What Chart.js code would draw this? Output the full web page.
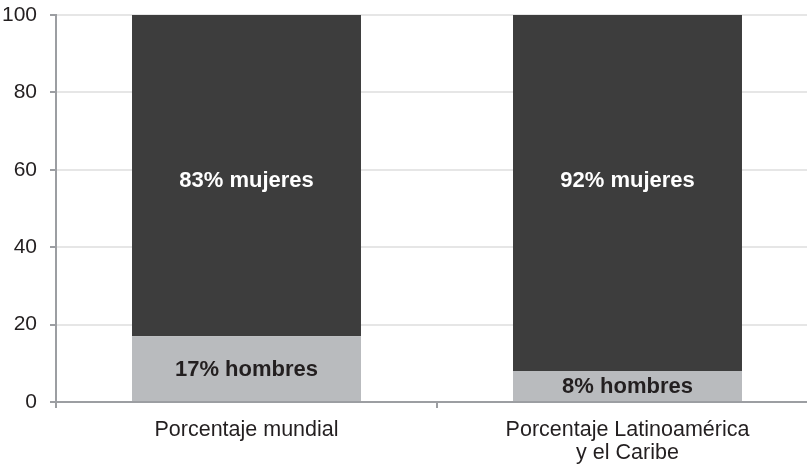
<!DOCTYPE html>
<html>
<head>
<meta charset="utf-8">
<script src="https://cdn.jsdelivr.net/npm/chart.js@4/dist/chart.umd.min.js"></script>
<style>
  html, body { margin: 0; padding: 0; background: #fff; overflow: hidden; }
  #wrap { width: 818px; height: 467px; }
</style>
</head>
<body>
<div id="wrap"><canvas id="c" width="818" height="467"></canvas></div>
<script>
const categories = [["Porcentaje mundial"], ["Porcentaje Latinoamérica", "y el Caribe"]];
const hombres = [17, 8];
const mujeres = [83, 92];
const hombresLabels = ["17% hombres", "8% hombres"];
const mujeresLabels = ["83% mujeres", "92% mujeres"];
const yTicks = [0, 20, 40, 60, 80, 100];

const FONT = "'Liberation Sans', Arial, Helvetica, sans-serif";
const AXIS = '#9c9ea2';

const barLabels = {
  id: 'barLabels',
  afterDatasetsDraw(chart) {
    const ctx = chart.ctx;
    const y = chart.scales.y;
    ctx.save();
    ctx.font = 'bold 22px ' + FONT;
    ctx.textAlign = 'center';
    ctx.textBaseline = 'middle';
    chart.getDatasetMeta(0).data.forEach((bar, i) => {
      ctx.fillStyle = '#231f20';
      ctx.fillText(hombresLabels[i], bar.x, (bar.y + bar.base) / 2 + 1);
    });
    chart.getDatasetMeta(1).data.forEach((bar, i) => {
      ctx.fillStyle = '#ffffff';
      ctx.fillText(mujeresLabels[i], bar.x, y.getPixelForValue(57));
    });
    ctx.restore();
  }
};

new Chart(document.getElementById('c'), {
  type: 'bar',
  data: {
    labels: categories,
    datasets: [
      { label: 'Hombres', data: hombres, backgroundColor: '#b9bbbe', borderWidth: 0 },
      { label: 'Mujeres', data: mujeres, backgroundColor: '#3d3d3d', borderWidth: 0 }
    ]
  },
  options: {
    responsive: false,
    animation: false,
    devicePixelRatio: 1,
    layout: { padding: { top: 15, right: 0, bottom: 0, left: 0 } },
    plugins: { legend: { display: false }, tooltip: { enabled: false } },
    datasets: { bar: { barPercentage: 0.601, categoryPercentage: 1 } },
    scales: {
      x: {
        stacked: true,
        offset: true,
        afterFit(s) { s.height = 65; s.paddingLeft = 0; s.paddingRight = 0; },
        grid: { drawOnChartArea: false, offset: true, tickLength: 6, color: AXIS, lineWidth: 2 },
        border: { color: AXIS, width: 2 },
        ticks: { color: '#231f20', padding: 10, font: { family: FONT, size: 21.5, lineHeight: 1.08 }, maxRotation: 0 }
      },
      y: {
        stacked: true,
        min: 0, max: 100,
        afterFit(s) { s.width = 56; s.paddingTop = 0; s.paddingBottom = 0; },
        afterBuildTicks(s) { s.ticks = yTicks.map(v => ({ value: v })); },
        grid: {
          color: (c) => c.tick && c.tick.value === 0 ? 'rgba(0,0,0,0)' : '#e6e6e6',
          lineWidth: 2, tickLength: 6, tickColor: AXIS
        },
        border: { color: AXIS, width: 2 },
        ticks: { color: '#231f20', padding: 13, font: { family: FONT, size: 21 } }
      }
    }
  },
  plugins: [barLabels]
});
</script>
</body>
</html>
